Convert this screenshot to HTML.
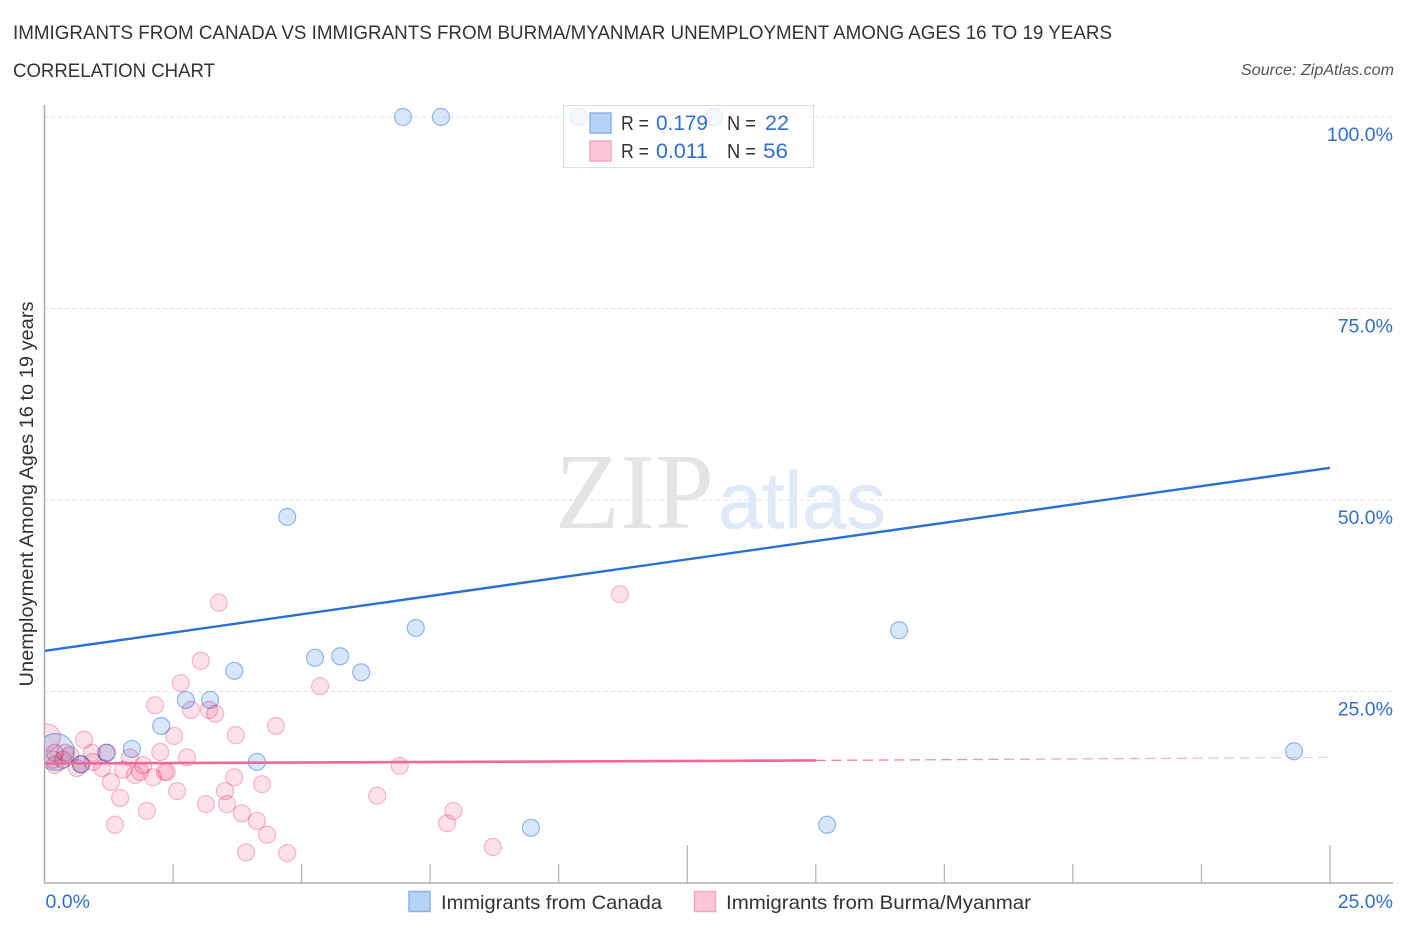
<!DOCTYPE html>
<html lang="en">
<head>
<meta charset="utf-8">
<title>Correlation Chart</title>
<style>
html,body{margin:0;padding:0;background:#fff;}
body{width:1406px;height:930px;overflow:hidden;font-family:"Liberation Sans",sans-serif;}
svg{display:block;}
text{font-family:"Liberation Sans",sans-serif;}
#points circle{mix-blend-mode:multiply;}
</style>
</head>
<body>
<svg id="chart" width="1406" height="930" viewBox="0 0 1406 930" xmlns="http://www.w3.org/2000/svg">
  <defs>
    <clipPath id="plot-clip"><rect x="45" y="100" width="1348" height="783"></rect></clipPath>
    <linearGradient id="dash-fade" gradientUnits="userSpaceOnUse" x1="816" y1="0" x2="1330" y2="0">
      <stop offset="0" stop-color="#ec6a97" stop-opacity="0.9"></stop>
      <stop offset="1" stop-color="#ec6a97" stop-opacity="0.3"></stop>
    </linearGradient>
  </defs>
  <text x="13" y="39" font-size="19.5" fill="#333" textLength="1099" lengthAdjust="spacingAndGlyphs">IMMIGRANTS FROM CANADA VS IMMIGRANTS FROM BURMA/MYANMAR UNEMPLOYMENT AMONG AGES 16 TO 19 YEARS</text>
  <text x="13" y="77" font-size="19.5" fill="#333" textLength="202" lengthAdjust="spacingAndGlyphs">CORRELATION CHART</text>
  <text x="1394" y="75" font-size="15.5" font-style="italic" fill="#555" text-anchor="end" textLength="153" lengthAdjust="spacingAndGlyphs">Source: ZipAtlas.com</text>

  <g>
    <text x="555" y="528" font-size="108" fill="#e4e4e4" style="font-family:'Liberation Serif',serif" textLength="159" lengthAdjust="spacingAndGlyphs">ZIP</text>
    <text x="718" y="528" font-size="80" fill="#dfe9f8" stroke="#dfe9f8" stroke-width="0.6" textLength="168" lengthAdjust="spacingAndGlyphs">atlas</text>
  </g>

  <g id="grid"></g>
  <g id="axes"></g>
  <g id="points" clip-path="url(#plot-clip)"></g>
  <g id="trends" clip-path="url(#plot-clip)"></g>
  <g id="labels"></g>

  <g>
    <rect x="563.5" y="105.5" width="250" height="62" fill="#fff" fill-opacity="0.72" stroke="#ddd" stroke-width="1"></rect>
    <rect x="590" y="113" width="21" height="20" fill="#b5d2f7" stroke="#8ab2e8" stroke-width="1.5"></rect>
    <rect x="590" y="141" width="21" height="20" fill="#fcc5d8" stroke="#f3a6c0" stroke-width="1.5"></rect>
    <text x="621" y="130" font-size="20" fill="#333" textLength="28" lengthAdjust="spacingAndGlyphs">R =</text>
    <text x="656" y="130" font-size="21" fill="#2f6fcf" textLength="52" lengthAdjust="spacingAndGlyphs">0.179</text>
    <text x="727" y="130" font-size="20" fill="#333" textLength="29" lengthAdjust="spacingAndGlyphs">N =</text>
    <text x="765" y="130" font-size="21" fill="#2f6fcf" textLength="24" lengthAdjust="spacingAndGlyphs">22</text>
    <text x="621" y="158" font-size="20" fill="#333" textLength="28" lengthAdjust="spacingAndGlyphs">R =</text>
    <text x="656" y="158" font-size="21" fill="#2f6fcf" textLength="52" lengthAdjust="spacingAndGlyphs">0.011</text>
    <text x="727" y="158" font-size="20" fill="#333" textLength="29" lengthAdjust="spacingAndGlyphs">N =</text>
    <text x="763" y="158" font-size="21" fill="#2f6fcf" textLength="25" lengthAdjust="spacingAndGlyphs">56</text>
  </g>

  <g>
    <rect x="409" y="891.5" width="21" height="20" fill="#b5d2f7" stroke="#8ab2e8" stroke-width="1.5"></rect>
    <text x="441" y="909" font-size="19.5" fill="#333" textLength="221" lengthAdjust="spacingAndGlyphs">Immigrants from Canada</text>
    <rect x="694.5" y="891.5" width="21" height="20" fill="#fcc5d8" stroke="#f3a6c0" stroke-width="1.5"></rect>
    <text x="726" y="909" font-size="19.5" fill="#333" textLength="305" lengthAdjust="spacingAndGlyphs">Immigrants from Burma/Myanmar</text>
  </g>

  <text transform="translate(33,494) rotate(-90)" font-size="19.5" fill="#333" text-anchor="middle" textLength="385" lengthAdjust="spacingAndGlyphs">Unemployment Among Ages 16 to 19 years</text>
</svg>

<script>
const canadaX = [6.97,7.71,10.39,13.02,4.72,7.22,16.62,5.26,5.75,6.16,3.69,2.75,3.22,2.27,1.70,1.20,4.13,0.71,9.46,15.22,24.30,0.22];
const canadaY = [100,100,100,100,47.8,33.3,33.0,29.4,29.6,27.5,27.7,23.9,23.9,20.5,17.5,17.0,15.8,15.5,7.2,7.6,17.2,17.1];
const canadaWeight = [1,1,1,1,1,1,1,1,1,1,1,1,1,1,1,1,1,1,1,1,1,4];
const burmaX = [2.65,5.36,2.15,2.85,3.20,3.32,3.72,4.50,2.52,0.77,2.25,2.77,6.91,6.47,3.69,4.23,3.51,2.58,3.14,3.55,3.84,4.13,4.33,3.92,4.72,1.99,1.47,1.29,1.37,7.95,7.83,8.72,3.39,11.19,3.04,1.66,1.92,1.53,1.76,1.86,2.11,2.34,2.38,1.12,0.92,0.94,0.63,0.20,1.22,0.40,0.36,0.20,0.50,0.05,0.17,0.71];
const burmaY = [26.1,25.7,23.2,22.6,22.6,22.1,19.3,20.5,19.2,18.7,17.1,16.4,15.3,11.4,13.8,12.9,12.0,12.0,10.3,10.3,9.1,8.1,6.3,4.0,3.9,9.4,11.1,13.2,7.6,9.4,7.8,4.7,36.6,37.7,29.0,16.4,15.4,14.8,14.1,14.5,13.8,14.5,14.5,15.0,17.0,15.8,15.0,15.4,17.0,17.0,16.1,17.0,16.7,19.0,16.1,15.5];
const burmaWeight = [1,1,1,1,1,1,1,1,1,1,1,1,1,1,1,1,1,1,1,1,1,1,1,1,1,1,1,1,1,1,1,1,1,1,1,1,1,1,1,1,1,1,1,1,1,1,1,1,1,1,1,1,1,2.5,1,1];
const canadaTrendX = [0,25];
const canadaTrendY = [30.3,54.2];
const burmaTrendSolidX = [0,15];
const burmaTrendSolidY = [15.6,16.0];
const burmaTrendDashX = [15,25];
const burmaTrendDashY = [16.0,16.4];
const yTickValues = [25,50,75,100];
const yTickLabels = ["25.0%","50.0%","75.0%","100.0%"];
const xTickValues = [2.5,5,7.5,10,12.5,15,17.5,20,22.5,25];
const xTickMajor = [false,false,false,false,true,false,false,false,false,true];
const xEndValues = [0,25];
const xEndLabels = ["0.0%","25.0%"];

function xScale(v){ return 44.5 + v * (1330 - 44.5) / 25; }
function yScale(v){ return 883 - v * (883 - 117) / 100; }

const NS = "http://www.w3.org/2000/svg";
function make(tag, parent, attrs){
  const el = document.createElementNS(NS, tag);
  Object.keys(attrs).forEach(function(k){ el.setAttribute(k, attrs[k]); });
  parent.appendChild(el);
  return el;
}

const gridG = document.getElementById("grid");
const axesG = document.getElementById("axes");
const pointsG = document.getElementById("points");
const trendsG = document.getElementById("trends");
const labelsG = document.getElementById("labels");

yTickValues.forEach(function(v, i){
  const line = make("line", gridG, {x1:44, x2:1393, y1:yScale(v), y2:yScale(v), stroke:"#e2e2e2", "stroke-width":1, "stroke-dasharray":"4 3"});
  
  
  const t = make("text", labelsG, {x:1393, y:yScale(v) + 24, "font-size":19.5, fill:"#2f6fcf", "text-anchor":"end"});
  t.textContent = yTickLabels[i];
  
  
});

const yAxis = make("line", axesG, {x1:44.5, x2:44.5, y1:105, y2:884, stroke:"#aaa", "stroke-width":1.5});


const xAxis = make("line", axesG, {x1:44, x2:1393, y1:883, y2:883, stroke:"#b4b4b4", "stroke-width":1.5});



xTickValues.forEach(function(v, i){
  const tick = make("line", axesG, {x1:xScale(v), x2:xScale(v), y1:xTickMajor[i] ? 845 : 864, y2:883, stroke:"#b0b0b0", "stroke-width":1.2});
  
  
});

xEndValues.forEach(function(v, i){
  const t = make("text", labelsG, {x:i === 0 ? xScale(v) + 1 : 1393, y:908, "font-size":19.5, fill:"#2f6fcf", "text-anchor":i === 0 ? "start" : "end"});
  t.textContent = xEndLabels[i];
  
  
});

canadaX.forEach(function(v, i){
  const c = make("circle", pointsG, {cx:xScale(v), cy:yScale(canadaY[i]), r:8.5 * Math.sqrt(canadaWeight[i]) + (canadaWeight[i] > 1 ? 1.5 : 0), fill:"#b4d2f7", "fill-opacity":0.55, stroke:"#7aa6e4", "stroke-opacity":0.8, "stroke-width":1.2});
  
  
});

burmaX.forEach(function(v, i){
  const c = make("circle", pointsG, {cx:xScale(v), cy:yScale(burmaY[i]), r:8.5 * Math.sqrt(burmaWeight[i]), fill:"#fab4cc", "fill-opacity":0.42, stroke:"#f298b8", "stroke-opacity":0.7, "stroke-width":1.2});
  
  
});

const canadaLine = make("line", trendsG, {x1:xScale(canadaTrendX[0]), y1:yScale(canadaTrendY[0]), x2:xScale(canadaTrendX[1]), y2:yScale(canadaTrendY[1]), stroke:"#2a6fd6", "stroke-width":2.4});


const burmaLine = make("line", trendsG, {x1:xScale(burmaTrendSolidX[0]), y1:yScale(burmaTrendSolidY[0]), x2:xScale(burmaTrendSolidX[1]), y2:yScale(burmaTrendSolidY[1]), stroke:"#ec6a97", "stroke-width":2.6});


const burmaDash = make("line", trendsG, {x1:xScale(burmaTrendDashX[0]), y1:yScale(burmaTrendDashY[0]), x2:xScale(burmaTrendDashX[1]), y2:yScale(burmaTrendDashY[1]), stroke:"url(#dash-fade)", "stroke-width":1.3, "stroke-dasharray":"10 5.7"});


</script>
</body>
</html>
